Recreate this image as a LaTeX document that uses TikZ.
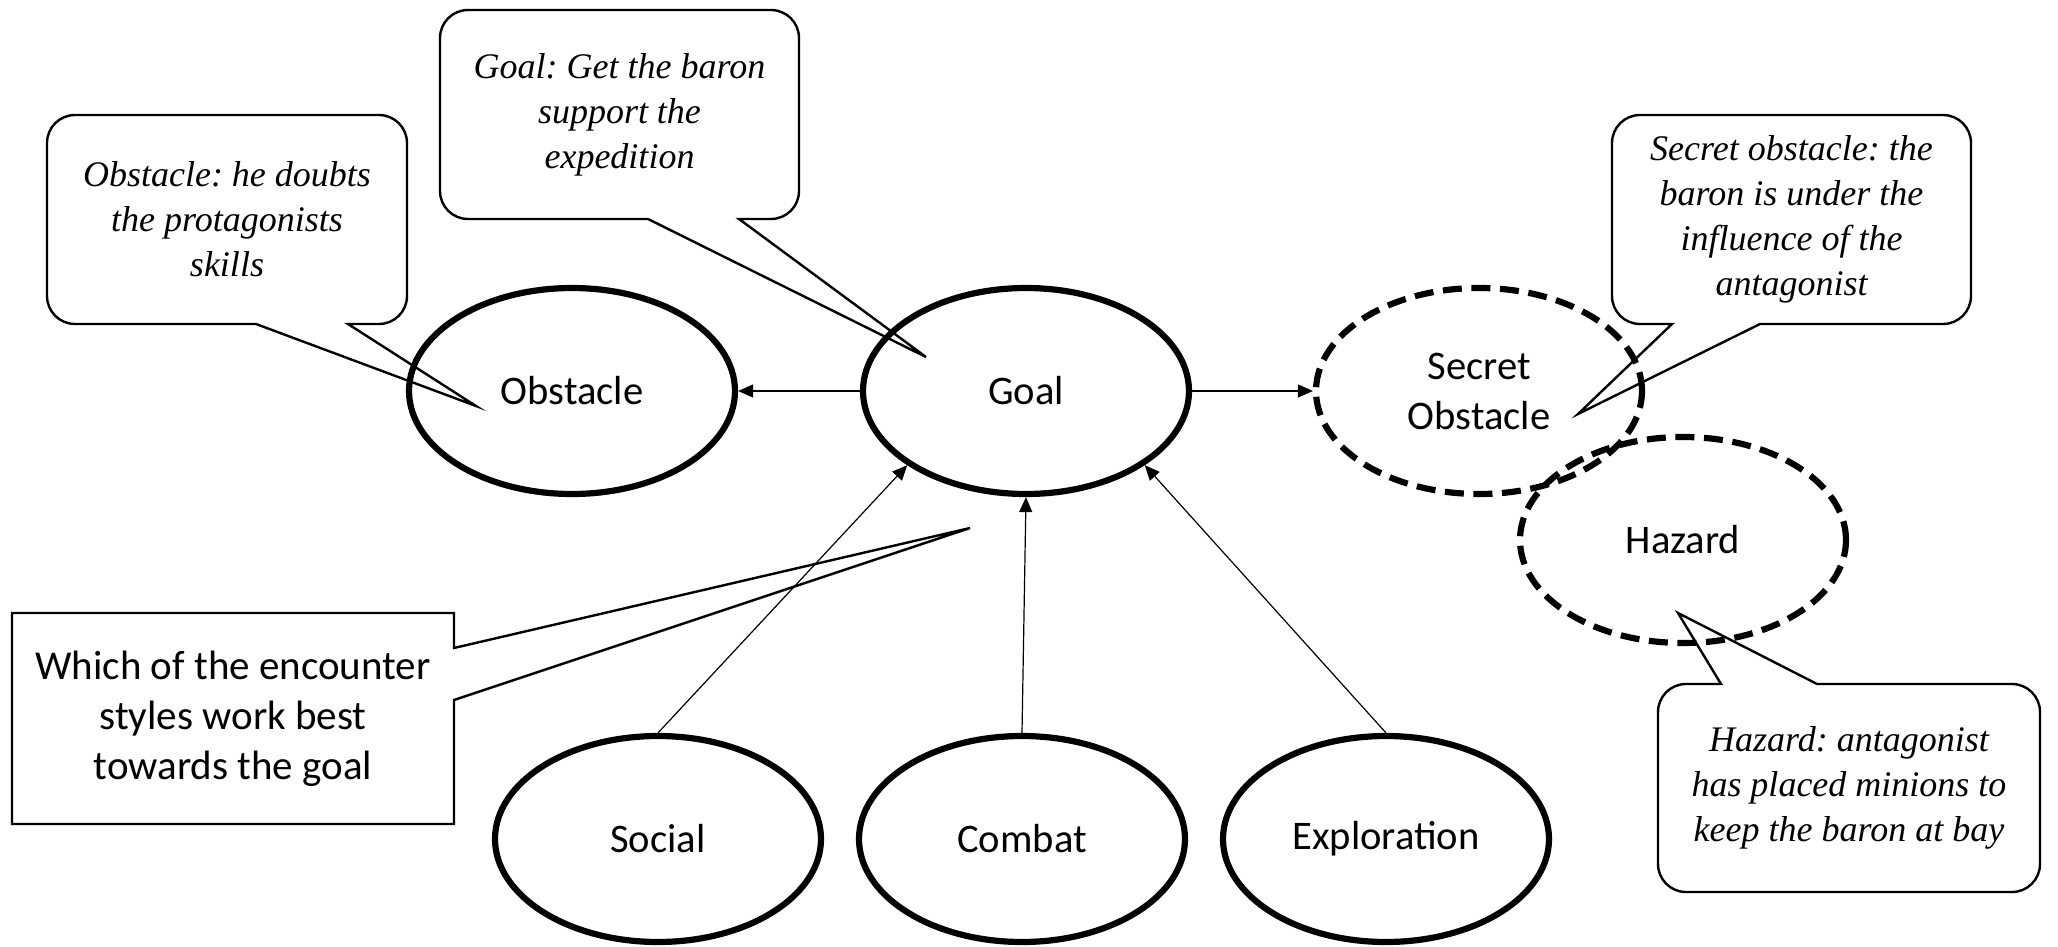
\documentclass[tikz,border=0pt]{standalone}
\usepackage{fontspec}
\newfontfamily\uisans{Carlito}
\newfontfamily\noteserif{Liberation Serif}
\usetikzlibrary{arrows.meta,shapes.geometric}
\frenchspacing
\begin{document}
\begin{tikzpicture}[x=0.5pt,y=-0.5pt,
  bubble/.style={ellipse, draw, line width=3.1pt, minimum width=163pt,
    minimum height=103pt, inner sep=0pt, align=center,
    font=\uisans\fontsize{20.3}{25}\selectfont},
  hidden/.style={bubble, dash pattern=on 9.5pt off 4.8pt},
  notetext/.style={rectangle, inner sep=0pt, outer sep=0pt, align=center,
    minimum height=104.5pt, font=\noteserif\itshape\fontsize{18}{22.5}\selectfont},
  plaintext/.style={rectangle, inner sep=0pt, outer sep=0pt, align=center,
    font=\uisans\fontsize{20.5}{25}\selectfont},
  noteline/.style={draw, line width=1.2pt, line join=miter},
  conn/.style={line width=0.6pt, -{Triangle[length=7.5pt,width=6.5pt]}}
]
\useasboundingbox (0,0) rectangle (2058,947);

% story elements
\node[bubble] (obstacle) at (572,391) {Obstacle};
\node[bubble] (goal) at (1026,391) {Goal};
\node[hidden] (secret) at (1479,391) {Secret\\Obstacle};
\node[hidden] (hazard) at (1683,540) {Hazard};
\node[bubble] (social) at (658,839) {Social};
\node[bubble] (combat) at (1022,839) {Combat};
\node[bubble] (explore) at (1386,839) {Exploration};

% links
\draw[conn] (goal.west) -- (obstacle.east);
\draw[conn] (goal.east) -- (secret.west);
\draw[conn] (social.north) -- (goal.212);
\draw[conn] (combat.north) -- (goal.south);
\draw[conn] (explore.north) -- (goal.328);

% annotation texts
\node[notetext, minimum width=180pt] (obsnote) at (227,219.5)
  {Obstacle: he doubts\\the protagonists\\skills};
\node[notetext, minimum width=179.5pt] (goalnote) at (619.5,114.5)
  {Goal: Get the baron\\support the\\expedition};
\node[notetext, minimum width=179.5pt] (secnote) at (1791.5,219.5)
  {Secret obstacle: the\\baron is under the\\influence of the\\antagonist};
\node[notetext, minimum width=191pt, minimum height=104pt] (haznote) at (1849,788)
  {Hazard: antagonist\\has placed minions to\\keep the baron at bay};
\node[plaintext, minimum width=221pt, minimum height=105.5pt] (encnote) at (233,718.5)
  {Which of the encounter\\styles work best\\towards the goal};

% pointer tips
\coordinate (obstip) at (476,406);
\coordinate (goaltip) at (926,357);
\coordinate (sectip) at (1578,414);
\coordinate (haztip) at (1678,613);
\coordinate (enctip) at (970,528);

% callout outlines: rounded box corners, sharp pointer
\draw[noteline] (obstip) -- (348,324) [rounded corners=14pt] -- (obsnote.south east)
  -- (obsnote.north east) -- (obsnote.north west)
  -- (obsnote.south west) [sharp corners] -- (256,324) -- cycle;
\draw[noteline] (goaltip) -- (739,219) [rounded corners=14pt] -- (goalnote.south east)
  -- (goalnote.north east) -- (goalnote.north west)
  -- (goalnote.south west) [sharp corners] -- (648,219) -- cycle;
\draw[noteline] (sectip) -- (1760,324) [rounded corners=14pt] -- (secnote.south east)
  -- (secnote.north east) -- (secnote.north west)
  -- (secnote.south west) [sharp corners] -- (1672,324) -- cycle;
\draw[noteline] (haztip) -- (1817,684) [rounded corners=14pt] -- (haznote.north east)
  -- (haznote.south east) -- (haznote.south west)
  -- (haznote.north west) [sharp corners] -- (1721,684) -- cycle;
\draw[noteline] (enctip) -- (454,648) -- (encnote.north east)
  -- (encnote.north west) -- (encnote.south west) -- (encnote.south east)
  -- (454,700) -- cycle;
\end{tikzpicture}
\end{document}
